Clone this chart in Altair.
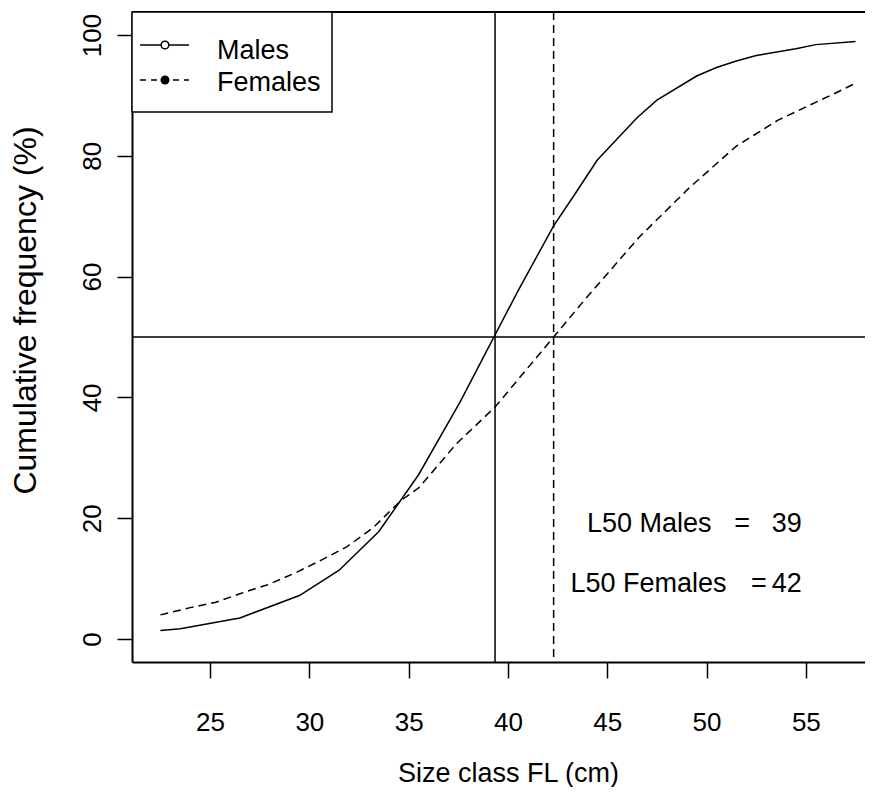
import altair as alt
import pandas as pd

# ---- data ----
males_size = [22.5, 23.5, 26.5, 29.5, 31.5, 33.5, 35.5, 37.6, 40.5, 42.3, 43.4, 44.5,
              46.5, 47.5, 49.5, 50.5, 51.5, 52.5, 54.5, 55.5, 57.5]
males_cum = [1.4, 1.7, 3.5, 7.2, 11.4, 17.8, 27.2, 39.3, 57.6, 68.4, 73.8, 79.3,
             86.3, 89.2, 93.2, 94.6, 95.7, 96.6, 97.7, 98.4, 98.9]

females_size = [22.5, 24.0, 25.3, 26.5, 27.9, 29.2, 30.5, 31.9, 33.2, 34.6, 35.5, 37.4,
                39.35, 42.3, 43.9, 46.6, 49.1, 51.5, 53.6, 56.5, 57.5]
females_cum = [4.0, 5.2, 6.1, 7.5, 9.0, 10.8, 12.9, 15.3, 18.4, 22.9, 25.0, 32.3,
               38.4, 50.0, 56.3, 66.5, 74.6, 81.6, 85.9, 90.4, 92.0]

L50_MALES = 39.35
L50_FEMALES = 42.3
HALF = 50
x_ticks = [25, 30, 35, 40, 45, 50, 55]
y_ticks = [0, 20, 40, 60, 80, 100]
legend_labels = ["Males", "Females"]
l50_labels = ["L50 Males", "L50 Females"]
l50_values = ["39", "42"]

# ---- layout / style ----
FONT = "Liberation Sans"
PLOT_W = 733
X_DOMAIN = [21.07, 21.07 + PLOT_W / 19.86]
Y_DOMAIN = [-3.8, 103.8]
DASH = [8, 5]

males_df = pd.DataFrame({"size": males_size, "cum": males_cum})
females_df = pd.DataFrame({"size": females_size, "cum": females_cum})

xs = alt.Scale(domain=X_DOMAIN, nice=False, zero=False)
ys = alt.Scale(domain=Y_DOMAIN, nice=False, zero=False)

x_axis = alt.Axis(
    values=x_ticks, title="Size class FL (cm)", grid=False,
    tickSize=16, tickWidth=1.5, tickColor="black",
    domainColor="black", domainWidth=2,
    labelFont=FONT, labelFontSize=26, labelColor="black", labelPadding=31,
    labelFlush=False,
    titleFont=FONT, titleFontSize=27, titleFontWeight="normal", titleColor="black",
    titleX=376, titleY=119, titleAlign="center", titleBaseline="alphabetic",
)
y_axis = alt.Axis(
    values=y_ticks, title="Cumulative frequency (%)", grid=False,
    tickSize=15, tickWidth=1.5, tickColor="black",
    domainColor="black", domainWidth=2,
    labelFont=FONT, labelFontSize=26, labelColor="black", labelPadding=17,
    labelAngle=270, labelAlign="center", labelBaseline="alphabetic", labelFlush=False,
    titleFont=FONT, titleFontSize=32, titleFontWeight="normal", titleColor="black",
    titleAngle=270, titleX=-97, titleY=298, titleAlign="center", titleBaseline="alphabetic",
)


def X(v):
    return alt.XDatum(v, scale=xs, axis=x_axis)


def Y(v):
    return alt.YDatum(v, scale=ys, axis=y_axis)


males_line = alt.Chart(males_df).mark_line(color="black", strokeWidth=1.5).encode(
    x=alt.X("size:Q", scale=xs, axis=x_axis),
    y=alt.Y("cum:Q", scale=ys, axis=y_axis),
)
females_line = alt.Chart(females_df).mark_line(
    color="black", strokeWidth=1.5, strokeDash=DASH
).encode(
    x=alt.X("size:Q", scale=xs, axis=x_axis),
    y=alt.Y("cum:Q", scale=ys, axis=y_axis),
)

base = alt.Chart(pd.DataFrame({"d": [0]}))

hline = base.mark_rule(color="black", strokeWidth=1.5).encode(y=Y(HALF))
top_border = base.mark_rule(color="black", strokeWidth=2).encode(y=Y(Y_DOMAIN[1]))
vline_m = base.mark_rule(color="black", strokeWidth=1.5).encode(x=X(L50_MALES))
vline_f = base.mark_rule(color="black", strokeWidth=1.5, strokeDash=DASH).encode(
    x=X(L50_FEMALES))

# annotations
ann_style = dict(font=FONT, fontSize=27, color="black", baseline="alphabetic")
ann_m1 = base.mark_text(align="left", **ann_style).encode(
    x=X(43.98), y=Y(17.66), text=alt.value(l50_labels[0]))
ann_m2 = base.mark_text(align="center", **ann_style).encode(
    x=X(51.79), y=Y(17.66), text=alt.value("="))
ann_m3 = base.mark_text(align="right", **ann_style).encode(
    x=X(54.8), y=Y(17.66), text=alt.value(l50_values[0]))
ann_f1 = base.mark_text(align="left", **ann_style).encode(
    x=X(43.15), y=Y(7.72), text=alt.value(l50_labels[1]))
ann_f2 = base.mark_text(align="center", **ann_style).encode(
    x=X(52.63), y=Y(7.72), text=alt.value("="))
ann_f3 = base.mark_text(align="right", **ann_style).encode(
    x=X(54.8), y=Y(7.72), text=alt.value(l50_values[1]))

# hand-drawn legend box (top-left, like R's legend())
leg_box = base.mark_rect(fill="white", stroke="black", strokeWidth=1.5).encode(
    x=alt.value(0), x2=alt.value(200), y=alt.value(0), y2=alt.value(100))
leg_line_m = base.mark_rule(color="black", strokeWidth=1.5).encode(
    x=alt.value(8), x2=alt.value(57), y=alt.value(33))
leg_line_f = base.mark_rule(color="black", strokeWidth=1.5, strokeDash=[6, 5]).encode(
    x=alt.value(8), x2=alt.value(57), y=alt.value(68))
leg_pt_m = base.mark_point(shape="circle", filled=False, size=60, color="black",
                           strokeWidth=1.5, opacity=1).encode(
    x=alt.value(33), y=alt.value(33), fill=alt.value("white"))
leg_pt_f = base.mark_point(shape="circle", filled=True, size=80, color="black",
                           opacity=1).encode(x=alt.value(33), y=alt.value(68))
leg_txt_m = base.mark_text(align="left", baseline="alphabetic", font=FONT, fontSize=27,
                           color="black").encode(
    x=alt.value(85), y=alt.value(47), text=alt.value(legend_labels[0]))
leg_txt_f = base.mark_text(align="left", baseline="alphabetic", font=FONT, fontSize=27,
                           color="black").encode(
    x=alt.value(85), y=alt.value(79), text=alt.value(legend_labels[1]))

chart = alt.layer(
    males_line, females_line, hline, vline_m, vline_f, top_border,
    ann_m1, ann_m2, ann_m3, ann_f1, ann_f2, ann_f3,
    leg_box, leg_line_m, leg_line_f, leg_pt_m, leg_pt_f, leg_txt_m, leg_txt_f,
).properties(
    width=PLOT_W, height=650,
    autosize=alt.AutoSizeParams(type="none"),
    padding={"left": 124, "top": 4, "right": 0, "bottom": 125},
    background="white",
).configure_view(stroke=None)

chart.save("out.html", embed_options={"renderer": "svg", "actions": False})
